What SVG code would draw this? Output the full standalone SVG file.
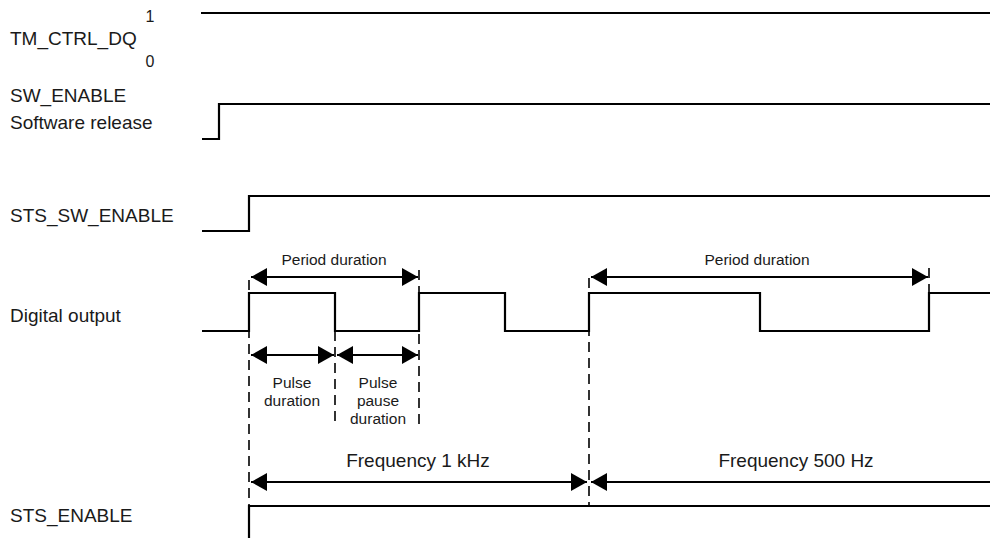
<svg xmlns="http://www.w3.org/2000/svg" width="990" height="540" viewBox="0 0 990 540">
<style>
.sig{fill:none;stroke:#000;stroke-width:2.2;stroke-linejoin:miter}
.dash{fill:none;stroke:#000;stroke-width:1.6;stroke-dasharray:10 6}
.arr{fill:none;stroke:#000;stroke-width:2.2}
.lbl{font-family:"Liberation Sans",Arial,sans-serif;font-size:19px;fill:#1a1a1a}
.sm{font-family:"Liberation Sans",Arial,sans-serif;font-size:15.5px;fill:#1a1a1a;text-anchor:middle}
.big{font-family:"Liberation Sans",Arial,sans-serif;font-size:19px;fill:#1a1a1a;text-anchor:middle}
.num{font-family:"Liberation Sans",Arial,sans-serif;font-size:16px;fill:#1a1a1a;text-anchor:middle}
</style>
<defs>
<marker id="ah" markerUnits="userSpaceOnUse" markerWidth="17" markerHeight="18" refX="16" refY="9" orient="auto-start-reverse" viewBox="0 0 17 18">
<path d="M0,0 L16,9 L0,18 z" fill="#000"/>
</marker>
</defs>
<rect width="990" height="540" fill="#fff"/>
<g id="tm_ctrl_dq">
<text class="lbl" x="10" y="45">TM_CTRL_DQ</text>
<text class="num" x="150" y="22">1</text>
<text class="num" x="150" y="67">0</text>
<path class="sig" d="M201,13 H990"/>
</g>
<g id="sw_enable">
<text class="lbl" x="10" y="102">SW_ENABLE</text>
<text class="lbl" x="10" y="129">Software release</text>
<path class="sig" d="M202,139 H219 V104 H990"/>
</g>
<g id="sts_sw_enable">
<text class="lbl" x="10" y="222">STS_SW_ENABLE</text>
<path class="sig" d="M202,231 H249 V196 H990"/>
</g>
<g id="digital_output">
<text class="lbl" x="10" y="322">Digital output</text>
<path class="sig" d="M202,331 H249 V293 H335 V331 H419 V293 H505 V331 H589 V293 H760 V331 H929 V293 H990"/>
</g>
<g id="sts_enable">
<text class="lbl" x="10" y="522">STS_ENABLE</text>
<path class="sig" d="M249,538 V506 H990"/>
</g>
<g id="labels">
<text class="sm" x="334" y="265">Period duration</text>
<text class="sm" x="757" y="265">Period duration</text>
<text class="sm" x="292" y="388">Pulse</text>
<text class="sm" x="292" y="406">duration</text>
<text class="sm" x="378" y="388">Pulse</text>
<text class="sm" x="378" y="406">pause</text>
<text class="sm" x="378" y="424">duration</text>
<text class="big" x="418" y="467">Frequency 1 kHz</text>
<text class="big" x="796" y="467">Frequency 500 Hz</text>
</g>
<g id="connectors">
<path class="dash" d="M249,280 V506"/>
<path class="dash" d="M335,331 V425"/>
<path class="dash" d="M419,270 V425"/>
<path class="dash" d="M589,278 V506"/>
<path class="dash" d="M929,268 V293"/>
<path class="arr" d="M251,277 H418" marker-start="url(#ah)" marker-end="url(#ah)"/>
<path class="arr" d="M591,277 H928" marker-start="url(#ah)" marker-end="url(#ah)"/>
<path class="arr" d="M251,355 H334" marker-start="url(#ah)" marker-end="url(#ah)"/>
<path class="arr" d="M337,355 H418" marker-start="url(#ah)" marker-end="url(#ah)"/>
<path class="arr" d="M251,482 H587" marker-start="url(#ah)" marker-end="url(#ah)"/>
<path class="arr" d="M591,482 H990" marker-start="url(#ah)"/>
</g>
</svg>
